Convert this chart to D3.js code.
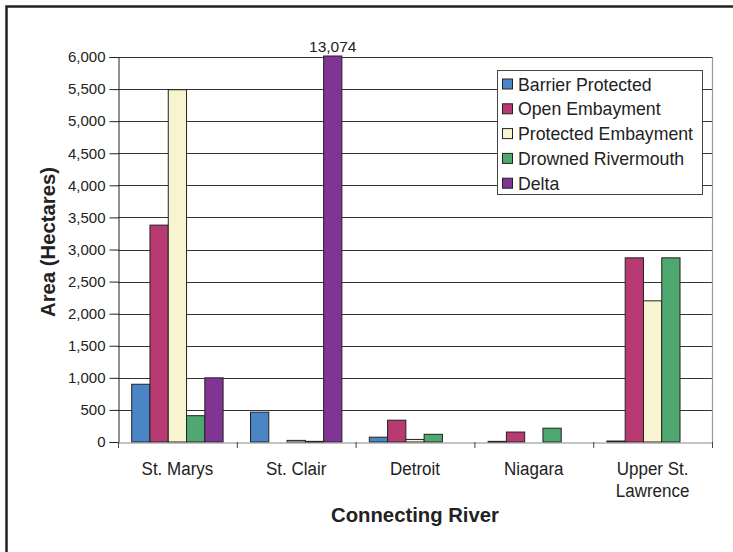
<!DOCTYPE html>
<html><head><meta charset="utf-8">
<script src="https://cdn.jsdelivr.net/npm/d3@7"></script>
<style>body{margin:0;background:#fff;}svg{display:block;font-family:"Liberation Sans",Arial,sans-serif;}</style>
</head><body>
<svg id="c" width="733" height="552"></svg>
<script>
const categories = ["St. Marys", "St. Clair", "Detroit", "Niagara", "Upper St. Lawrence"];
const series = ["Barrier Protected", "Open Embayment", "Protected Embayment", "Drowned Rivermouth", "Delta"];
const colors = ["#4a86c6", "#b83a72", "#f8f4d0", "#4ea870", "#803595"];
const barrierProtected   = [900, 465, 75, 10, 15];
const openEmbayment      = [3380, 0, 340, 155, 2870];
const protectedEmbayment = [5490, 25, 40, 0, 2200];
const drownedRivermouth  = [410, 10, 120, 215, 2870];
const delta              = [1000, 13074, 0, 0, 0];
const yTicks = [0, 500, 1000, 1500, 2000, 2500, 3000, 3500, 4000, 4500, 5000, 5500, 6000];
const seriesValues = [barrierProtected, openEmbayment, protectedEmbayment, drownedRivermouth, delta];

const svg = d3.select("#c");
// outer frame
svg.append("rect").attr("x", 6.5).attr("y", 6.5).attr("width", 760).attr("height", 580)
  .attr("fill", "none").attr("stroke", "#222").attr("stroke-width", 2.5);

const L = 118, R = 712, T = 57, B = 442;
const yMax = 6000;
const y = d3.scaleLinear().domain([0, yMax]).range([B, T]);
const x0 = d3.scaleBand().domain(categories).range([L, R]).padding(0);
const bw = x0.bandwidth() / 6.5;
const x1 = d3.scaleBand().domain(series).range([0.75 * bw, 5.75 * bw]).padding(0);

// gridlines
svg.append("g").selectAll("line").data(yTicks.filter(d => d > 0)).join("line")
  .attr("x1", L).attr("x2", R).attr("y1", d => Math.round(y(d)) + 0.5).attr("y2", d => Math.round(y(d)) + 0.5)
  .attr("stroke", "#333").attr("stroke-width", 1);
// plot border (right)
svg.append("line").attr("x1", R + 0.5).attr("x2", R + 0.5).attr("y1", T).attr("y2", B)
  .attr("stroke", "#999").attr("stroke-width", 1.2);

// bars
const g = svg.append("g");
categories.forEach((c, ci) => {
  series.forEach((s, si) => {
    const v = seriesValues[si][ci];
    if (v <= 0) return;
    const vv = Math.min(v, yMax);
    const top = v > yMax ? y(yMax) - 1 : y(vv);
    g.append("rect")
      .attr("x", x0(c) + x1(s)).attr("width", x1.bandwidth())
      .attr("y", top).attr("height", Math.max(B - top, 0.8))
      .attr("fill", colors[si]).attr("stroke", "#222").attr("stroke-width", 1);
    if (v > yMax) {
      svg.append("text").attr("x", x0(c) + x1(s) + x1.bandwidth() / 2).attr("y", 52)
        .attr("text-anchor", "middle").attr("font-size", 15.5).attr("fill", "#222")
        .text(d3.format(",")(v));
    }
  });
});

// y axis
const ya = svg.append("g").attr("transform", `translate(${L + 0.5},0)`)
  .call(d3.axisLeft(y).tickValues(yTicks).tickFormat(d3.format(",")).tickSize(9).tickPadding(4));
ya.select(".domain").attr("stroke", "#222");
ya.selectAll(".tick line").attr("stroke", "#222");
ya.selectAll("text").attr("font-size", 15).attr("fill", "#222").attr("font-family", "Liberation Sans, Arial, sans-serif");

// x axis
const xa = svg.append("g").attr("transform", `translate(0,${B + 0.5})`)
  .call(d3.axisBottom(x0).tickValues([]).tickSizeOuter(0));
xa.select(".domain").attr("stroke", "#888");
svg.append("g").selectAll("line").data(d3.range(categories.length + 1)).join("line")
  .attr("x1", i => L + i * x0.step() + 0.5).attr("x2", i => L + i * x0.step() + 0.5)
  .attr("y1", B).attr("y2", B + 6).attr("stroke", "#444");

const catLines = {"Upper St. Lawrence": ["Upper St.", "Lawrence"]};
categories.forEach(c => {
  const lines = catLines[c] || [c];
  const cx = x0(c) + x0.bandwidth() / 2;
  lines.forEach((ln, i) => {
    svg.append("text").attr("transform", `translate(${cx},${475 + i * 22}) scale(1,1.12)`)
      .attr("text-anchor", "middle").attr("font-size", 17).attr("fill", "#222").text(ln);
  });
});

// axis titles
svg.append("text").attr("x", 415).attr("y", 522).attr("text-anchor", "middle")
  .attr("font-size", 20.3).attr("font-weight", "bold").attr("fill", "#222").text("Connecting River");
svg.append("text").attr("transform", "translate(55,242) rotate(-90)").attr("text-anchor", "middle")
  .attr("font-size", 20.3).attr("font-weight", "bold").attr("fill", "#222").text("Area (Hectares)");

// legend
const lg = svg.append("g");
lg.append("rect").attr("x", 497.5).attr("y", 70.5).attr("width", 205).attr("height", 124)
  .attr("fill", "#fff").attr("stroke", "#444").attr("stroke-width", 1);
series.forEach((s, i) => {
  const cy = 84 + i * 24.8;
  lg.append("rect").attr("x", 502.5).attr("y", cy - 5).attr("width", 10).attr("height", 10)
    .attr("fill", colors[i]).attr("stroke", "#222").attr("stroke-width", 1);
  lg.append("text").attr("x", 518).attr("y", cy + 6.5).attr("font-size", 17.7).attr("fill", "#222").text(s);
});
</script>
</body></html>
